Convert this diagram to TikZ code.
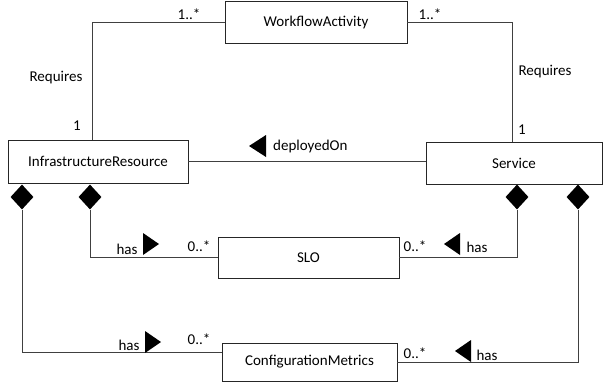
\documentclass[tikz,border=0pt]{standalone}
\usepackage{fontspec}
\setmainfont{Carlito}
\usetikzlibrary{shapes.geometric}
\begin{document}
\begin{tikzpicture}[x=1pt,y=-1pt,
  cls/.style={draw=black!85, line width=0.9pt, minimum height=#1, inner sep=0pt, font=\fontsize{15}{18}\selectfont},
  cls/.default=42pt,
  conn/.style={draw=black!75, line width=0.9pt},
  dia/.style={diamond, fill=black, inner sep=0pt, minimum width=23pt, minimum height=25pt},
  lbl/.style={inner sep=0pt, font=\fontsize{15}{18}\selectfont},
]
\useasboundingbox (0,0) rectangle (603,383);
% classes
\node[cls, minimum width=182pt] (WA) at (316,22) {WorkflowActivity};
\node[cls=43pt, minimum width=180pt] (IR) at (98,161.5) {InfrastructureResource};
\node[cls, minimum width=176pt] (S) at (514,163) {Service};
\node[cls=41pt, minimum width=181pt] (SLO) at (308.5,257.5) {SLO};
\node[cls=38pt, minimum width=175pt] (CM) at (309.5,362) {ConfigurationMetrics};
% diamonds
\node[dia] (d1) at (22,197) {};
\node[dia] (d2) at (90,197) {};
\node[dia] (d3) at (517,197) {};
\node[dia] (d4) at (578,197) {};
% requires
\draw[conn] (WA.west) -| ([xshift=-6pt]IR.north);
\draw[conn] (WA.east) -| ([xshift=-2pt]S.north);
\node[lbl] (m1) at (189,14) {1..*};
\node[lbl] (r1) at (56,78) {Requires};
\node[lbl] (o1) at (77,126) {1};
\node[lbl] (m2) at (430,14) {1..*};
\node[lbl] (r2) at (545,72) {Requires};
\node[lbl] (o2) at (522,130) {1};
% deployedOn
\draw[conn] (IR.east) -- (IR.east -| S.west);
\fill (249,146) -- (266,135) -- (266,157) -- cycle;
\node[lbl, anchor=west] (dep) at (273,146) {deployedOn};
% composition lines
\draw[conn] (d2.south) |- (SLO.west);
\draw[conn] (d1.south) |- ([yshift=10pt]CM.west);
\draw[conn] (d3.south) |- (SLO.east);
\draw[conn] (d4.south) |- (CM.east);
% labels left SLO
\node[lbl] (h1) at (127,249) {has};
\fill (159,244) -- (143,233) -- (143,255) -- cycle;
\node[lbl] (z1) at (199,246) {0..*};
% labels left CM
\node[lbl] (h2) at (129,345) {has};
\fill (161,342) -- (145,331) -- (145,353) -- cycle;
\node[lbl] (z2) at (199,339) {0..*};
% labels right SLO
\node[lbl] (z3) at (415,246) {0..*};
\fill (444,244) -- (460,233) -- (460,255) -- cycle;
\node[lbl] (h3) at (477,247) {has};
% labels right CM
\node[lbl] (z4) at (415,353) {0..*};
\fill (455,351) -- (471,340) -- (471,362) -- cycle;
\node[lbl] (h4) at (487,355) {has};
\end{tikzpicture}
\end{document}
